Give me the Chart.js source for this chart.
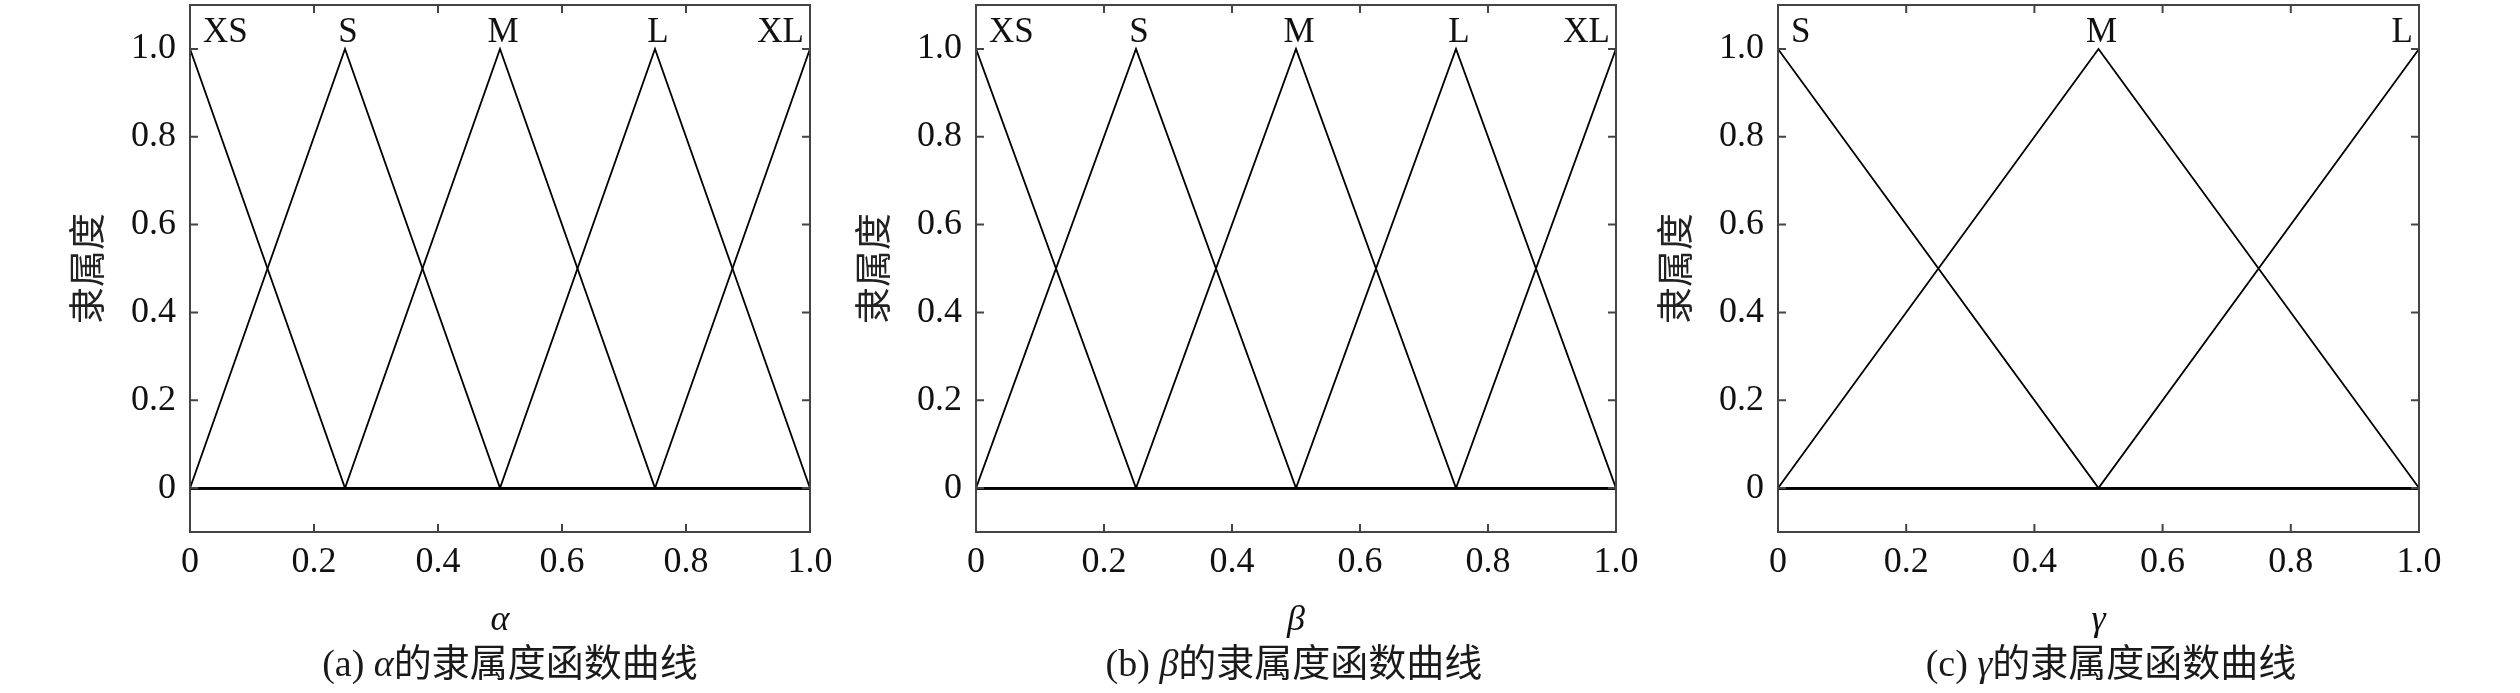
<!DOCTYPE html>
<html>
<head>
<meta charset="utf-8">
<title>隶属度函数曲线</title>
<script src="https://cdn.jsdelivr.net/npm/chart.js@4.4.1/dist/chart.umd.min.js"></script>
<style>
  body {
    margin: 0;
    width: 2520px;
    height: 693px;
    overflow: hidden;
    position: relative;
    background: #fff;
    font-family: 'Liberation Serif', 'Noto Sans CJK SC', serif;
  }
  canvas { position: absolute; top: 0; }
  .caption {
    position: absolute;
    top: 638px;
    width: 600px;
    font-size: 38px;
    line-height: 50px;
    text-align: center;
    color: #1a1a1a;
    white-space: nowrap;
  }
</style>
</head>
<body>
<canvas id="chartA" width="840" height="693" style="left:0px"></canvas>
<canvas id="chartB" width="860" height="693" style="left:786px"></canvas>
<canvas id="chartC" width="932" height="693" style="left:1588px"></canvas>
<div class="caption" style="left:210px">(a) <i>α</i>的隶属度函数曲线</div>
<div class="caption" style="left:994px">(b) <i>β</i>的隶属度函数曲线</div>
<div class="caption" style="left:1811px">(c) <i>γ</i>的隶属度函数曲线</div>
<script>
// breakpoints of the triangular membership functions
const alphaPoints = [0, 0.25, 0.5, 0.75, 1.0];
const alphaTerms = ['XS', 'S', 'M', 'L', 'XL'];
const alphaGrades = [
  [1, 0, 0, 0, 0],
  [0, 1, 0, 0, 0],
  [0, 0, 1, 0, 0],
  [0, 0, 0, 1, 0],
  [0, 0, 0, 0, 1]
];

const betaPoints = [0, 0.25, 0.5, 0.75, 1.0];
const betaTerms = ['XS', 'S', 'M', 'L', 'XL'];
const betaGrades = [
  [1, 0, 0, 0, 0],
  [0, 1, 0, 0, 0],
  [0, 0, 1, 0, 0],
  [0, 0, 0, 1, 0],
  [0, 0, 0, 0, 1]
];

const gammaPoints = [0, 0.5, 1.0];
const gammaTerms = ['S', 'M', 'L'];
const gammaGrades = [
  [1, 0, 0],
  [0, 1, 0],
  [0, 0, 1]
];

const xTicks = [0, 0.2, 0.4, 0.6, 0.8, 1.0];
const yTicks = [0, 0.2, 0.4, 0.6, 0.8, 1.0];
const yAxisTitle = '隶属度';

const SERIF = "'Liberation Serif', 'Noto Sans CJK SC', serif";
const INK = '#111';
const FRAME = '#444';

function fmtTick(v) {
  return v === 0 ? '0' : Number(v).toFixed(1);
}

// box around the plot, inward ticks on all sides, term names above the peaks
const framePlugin = {
  id: 'frameTicks',
  afterDraw(chart, args, opts) {
    const { ctx, chartArea: a, scales: { x, y } } = chart;
    ctx.save();
    ctx.strokeStyle = FRAME;
    ctx.lineWidth = 2;
    ctx.strokeRect(a.left, a.top, a.right - a.left, a.bottom - a.top);

    const tl = 8;
    ctx.beginPath();
    xTicks.forEach(v => {
      if (v === 0 || v === 1) return;
      const px = x.getPixelForValue(v);
      ctx.moveTo(px, a.bottom); ctx.lineTo(px, a.bottom - tl);
      ctx.moveTo(px, a.top); ctx.lineTo(px, a.top + tl);
    });
    yTicks.forEach(v => {
      const py = y.getPixelForValue(v);
      ctx.moveTo(a.left, py); ctx.lineTo(a.left + tl, py);
      ctx.moveTo(a.right, py); ctx.lineTo(a.right - tl, py);
    });
    ctx.stroke();

    ctx.fillStyle = INK;
    ctx.font = '35px ' + SERIF;
    ctx.textBaseline = 'alphabetic';
    const n = opts.terms.length;
    opts.terms.forEach((t, i) => {
      const peak = opts.points[opts.grades[i].indexOf(1)];
      let px = x.getPixelForValue(peak);
      if (i === 0) { ctx.textAlign = 'left'; px += 13; }
      else if (i === n - 1) { ctx.textAlign = 'right'; px -= 6; }
      else { ctx.textAlign = 'center'; px += 3; }
      ctx.fillText(t, px, 42);
    });
    ctx.restore();
  }
};

function makePanel(id, points, terms, grades, axisName, rightPad) {
  const datasets = terms.map((t, k) => ({
    label: t,
    data: points.map((p, i) => ({ x: p, y: grades[k][i] })),
    showLine: true,
    borderColor: '#000',
    borderWidth: 1.8,
    pointRadius: 0,
    fill: false
  }));

  return new Chart(document.getElementById(id), {
    type: 'scatter',
    data: { datasets },
    plugins: [framePlugin],
    options: {
      responsive: false,
      animation: false,
      layout: { padding: { top: 5, right: rightPad, left: 0, bottom: 0 } },
      plugins: {
        legend: { display: false },
        tooltip: { enabled: false },
        frameTicks: { terms, points, grades }
      },
      scales: {
        x: {
          type: 'linear',
          position: 'bottom',
          min: 0,
          max: 1,
          afterBuildTicks: s => { s.ticks = xTicks.map(v => ({ value: v })); },
          afterFit: s => { s.height = 161; s.paddingLeft = 0; s.paddingRight = 0; },
          ticks: {
            callback: fmtTick,
            font: { family: SERIF, size: 36 },
            color: INK,
            padding: 9,
            maxRotation: 0,
            autoSkip: false
          },
          grid: { display: false, drawTicks: false },
          border: { display: false },
          title: {
            display: true,
            text: axisName,
            color: INK,
            font: { family: SERIF, size: 36, style: 'italic' },
            padding: { top: 0, bottom: 51 }
          }
        },
        y: {
          type: 'linear',
          min: -0.1,
          max: 1.1,
          afterBuildTicks: s => { s.ticks = yTicks.map(v => ({ value: v })); },
          afterFit: s => { s.width = 190; s.paddingTop = 0; s.paddingBottom = 0; },
          ticks: {
            callback: fmtTick,
            font: { family: SERIF, size: 36 },
            color: INK,
            padding: 14
          },
          grid: {
            drawTicks: false,
            lineWidth: 3,
            color: c => (c.tick && c.tick.value === 0) ? INK : 'rgba(0,0,0,0)'
          },
          border: { display: false },
          title: {
            display: true,
            text: yAxisTitle,
            color: '#222',
            font: { family: SERIF, size: 37 },
            padding: { top: 69, bottom: 0 }
          }
        }
      }
    }
  });
}

makePanel('chartA', alphaPoints, alphaTerms, alphaGrades, 'α', 30);
makePanel('chartB', betaPoints, betaTerms, betaGrades, 'β', 30);
makePanel('chartC', gammaPoints, gammaTerms, gammaGrades, 'γ', 101);
</script>
</body>
</html>
